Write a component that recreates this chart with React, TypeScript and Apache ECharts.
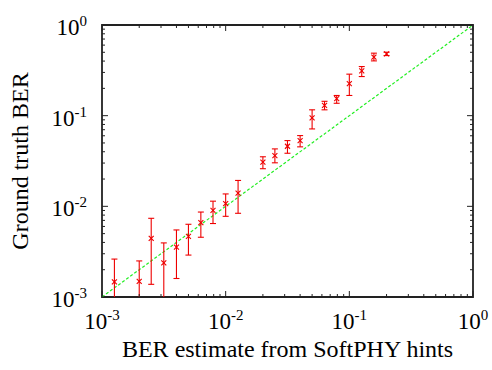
import React, { useEffect, useRef } from 'react';
import * as echarts from 'echarts';

// BER estimate from SoftPHY hints (x)
const berEstimate = [0.00126, 0.002, 0.0025, 0.00316, 0.004, 0.005, 0.0063, 0.0079, 0.01, 0.0126, 0.02, 0.025, 0.0316, 0.04, 0.05, 0.063, 0.079, 0.1, 0.126, 0.158, 0.2];
// Ground truth BER (y) and error bar bounds
const groundTruth = [0.00147, 0.00149, 0.00442, 0.00238, 0.00354, 0.00465, 0.00662, 0.00904, 0.0107, 0.014, 0.0307, 0.0363, 0.046, 0.0531, 0.0944, 0.13, 0.154, 0.226, 0.312, 0.442, 0.48];
const lowerBound = [0.0008, 0.0008, 0.00138, 0.0009, 0.0016, 0.0029, 0.00456, 0.00646, 0.00776, 0.00838, 0.026, 0.0302, 0.0385, 0.0453, 0.0714, 0.116, 0.137, 0.167, 0.27, 0.402, 0.46];
const upperBound = [0.00262, 0.0025, 0.00738, 0.00395, 0.00549, 0.00634, 0.00865, 0.0114, 0.0137, 0.0193, 0.0352, 0.043, 0.0531, 0.0603, 0.116, 0.144, 0.167, 0.287, 0.348, 0.489, 0.501];
// Reference line y = x
const identityLine = [[0.001, 0.001], [1, 1]];
// Axis ticks
const decadeExponents = [-3, -2, -1, 0];
const minorMultipliers = [2, 3, 4, 5, 6, 7, 8, 9];

const FONT = 'Liberation Serif';
const RED = '#ee0000';
const FRAME = '#222222';

export default function App() {
  const ref = useRef<HTMLDivElement>(null);
  useEffect(() => {
    if (!ref.current) return;
    const chart = echarts.init(ref.current, undefined, { renderer: 'svg' });

    const pointData = berEstimate.map((x, i) => [x, groundTruth[i], lowerBound[i], upperBound[i]]);
    const tickData: number[][] = [];
    decadeExponents.forEach((e) => {
      tickData.push([Math.pow(10, e), 1]);
      if (e < 0) minorMultipliers.forEach((m) => tickData.push([m * Math.pow(10, e), 0]));
    });

    const labelFmt = (v: number) => {
      const e = Math.round(Math.log10(v));
      return `{b|10}{s|${e}}`;
    };
    const rich = {
      b: { fontSize: 23, lineHeight: 23, fontFamily: FONT, color: '#000', padding: [5, 0, 0, 0] },
      s: { fontSize: 15, lineHeight: 15, fontFamily: FONT, color: '#000', verticalAlign: 'top' },
    };

    chart.setOption({
      animation: false,
      backgroundColor: '#fff',
      textStyle: { fontFamily: FONT },
      grid: {
        left: 102, right: 19, top: 25, bottom: 73,
        show: true, borderColor: FRAME, borderWidth: 1.8, backgroundColor: 'transparent',
      },
      xAxis: {
        type: 'log', logBase: 10, min: 0.001, max: 1,
        name: 'BER estimate from SoftPHY hints', nameLocation: 'middle', nameGap: 40,
        nameMoveOverlap: false,
        nameTextStyle: { fontFamily: FONT, fontSize: 24, color: '#000' },
        axisLine: { show: false }, axisTick: { show: false }, splitLine: { show: false },
        minorTick: { show: false },
        axisLabel: { formatter: labelFmt, rich, fontFamily: FONT, margin: 10, showMinLabel: true, showMaxLabel: true },
      },
      yAxis: {
        type: 'log', logBase: 10, min: 0.001, max: 1,
        name: 'Ground truth BER', nameLocation: 'middle', nameGap: 70,
        nameMoveOverlap: false,
        nameTextStyle: { fontFamily: FONT, fontSize: 24, color: '#000' },
        axisLine: { show: false }, axisTick: { show: false }, splitLine: { show: false },
        minorTick: { show: false },
        axisLabel: { formatter: labelFmt, rich, fontFamily: FONT, margin: 15, showMinLabel: true, showMaxLabel: true },
      },
      series: [
        {
          type: 'custom',
          data: tickData,
          silent: true,
          z: 5,
          renderItem: (params: any, api: any) => {
            const v = api.value(0);
            const major = api.value(1) === 1;
            const len = major ? 6 : 3;
            const b = api.coord([v, 0.001]);
            const t = api.coord([v, 1]);
            const l = api.coord([0.001, v]);
            const r = api.coord([1, v]);
            const st = { stroke: FRAME, lineWidth: 1 };
            return {
              type: 'group',
              children: [
                { type: 'line', shape: { x1: b[0], y1: b[1], x2: b[0], y2: b[1] - len }, style: st },
                { type: 'line', shape: { x1: t[0], y1: t[1], x2: t[0], y2: t[1] + len }, style: st },
                { type: 'line', shape: { x1: l[0], y1: l[1], x2: l[0] + len, y2: l[1] }, style: st },
                { type: 'line', shape: { x1: r[0], y1: r[1], x2: r[0] - len, y2: r[1] }, style: st },
              ],
            };
          },
        },
        {
          type: 'line',
          data: identityLine,
          symbol: 'none',
          lineStyle: { color: '#22ee22', width: 1.2, type: [3, 2] },
          z: 3,
        },
        {
          type: 'custom',
          data: pointData,
          encode: { x: 0, y: 1 },
          z: 4,
          renderItem: (params: any, api: any) => {
            const x = api.value(0);
            const c = api.coord([x, api.value(1)]);
            const pl = api.coord([x, api.value(2)]);
            const ph = api.coord([x, api.value(3)]);
            const cs = params.coordSys;
            const bottom = cs.y + cs.height;
            const top = cs.y;
            const yl = Math.min(pl[1], bottom);
            const yh = Math.max(ph[1], top);
            const st = { stroke: RED, lineWidth: 1.1 };
            const cw = 3;
            const m = 2.5;
            const children: any[] = [
              { type: 'line', shape: { x1: c[0], y1: yl, x2: c[0], y2: yh }, style: st },
              { type: 'line', shape: { x1: c[0] - m, y1: c[1] - m, x2: c[0] + m, y2: c[1] + m }, style: st },
              { type: 'line', shape: { x1: c[0] - m, y1: c[1] + m, x2: c[0] + m, y2: c[1] - m }, style: st },
            ];
            if (pl[1] <= bottom) children.push({ type: 'line', shape: { x1: c[0] - cw, y1: pl[1], x2: c[0] + cw, y2: pl[1] }, style: st });
            if (ph[1] >= top) children.push({ type: 'line', shape: { x1: c[0] - cw, y1: ph[1], x2: c[0] + cw, y2: ph[1] }, style: st });
            return { type: 'group', children };
          },
        },
      ],
    });
    return () => chart.dispose();
  }, []);
  return <div ref={ref} style={{ width: 492, height: 370, position: 'absolute', left: 0, top: 0 }} />;
}
